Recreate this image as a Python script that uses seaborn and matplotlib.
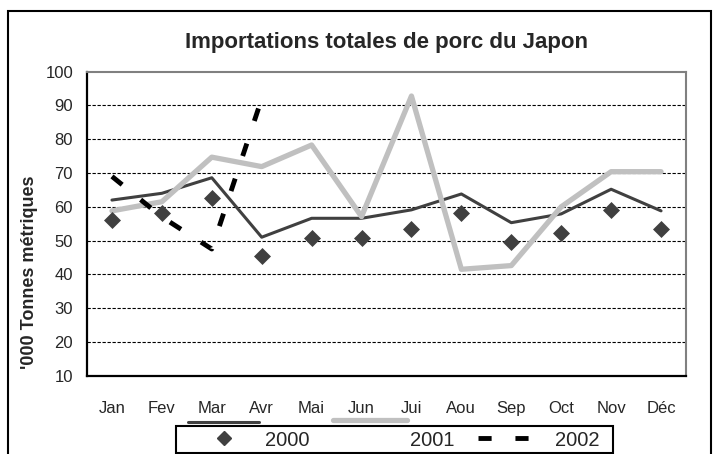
import numpy as np
import matplotlib
matplotlib.use('Agg')
import matplotlib.pyplot as plt
from matplotlib.lines import Line2D
from matplotlib.patches import Rectangle
import seaborn as sns

# ========== DATA ==========
mois = ['Jan', 'Fev', 'Mar', 'Avr', 'Mai', 'Jun', 'Jui', 'Aou', 'Sep', 'Oct', 'Nov', 'Déc']
moyenne = [62.0, 64.0, 68.6, 51.0, 56.6, 56.6, 59.1, 63.8, 55.3, 57.9, 65.2, 58.8]
imports_2000 = [56.1, 58.1, 62.5, 45.4, 50.9, 50.9, 53.3, 58.1, 49.7, 52.2, 59.1, 53.3]
imports_2001 = [58.8, 61.5, 74.7, 71.9, 78.3, 57.1, 92.8, 41.5, 42.6, 60.0, 70.4, 70.4]
imports_2002 = [69.0, 57.0, 47.5, 92.0]
y_ticks = list(range(10, 101, 10))

titre = 'Importations totales de porc du Japon'
label_y = "'000 Tonnes métriques"

# ========== STYLE ==========
sns.set_style("white")
plt.rcParams['font.family'] = ['Liberation Sans', 'DejaVu Sans']

W, H = 722, 454
fig = plt.figure(figsize=(W / 100, H / 100), dpi=100)
ax = fig.add_axes([87 / W, 1 - 375.7 / H, (686 - 87) / W, (375.7 - 71.7) / H])

pos = np.arange(len(mois))

# ========== SERIES ==========
sns.lineplot(x=pos, y=moyenne, color='#404040', linewidth=2.2, ax=ax, zorder=3)
sns.lineplot(x=pos, y=imports_2001, color='#c0c0c0', linewidth=3.8, ax=ax, zorder=4)
sns.scatterplot(x=pos, y=imports_2000, marker='D', s=75, color='#404040',
                edgecolor='#404040', linewidth=0, ax=ax, zorder=5)
sns.lineplot(x=pos[:len(imports_2002)], y=imports_2002, color='black', linewidth=3.5,
             linestyle=(0, (2.7, 4.9)), dash_capstyle='butt', ax=ax, zorder=6)

# ========== AXES ==========
ax.set_xlim(-0.5, len(mois) - 0.5)
ax.set_ylim(10, 100)
ax.set_yticks(y_ticks)
ax.set_xticks(pos, mois)
ax.set_xticks(np.arange(-0.5, len(mois), 1), minor=True)
ax.tick_params(axis='x', which='major', length=0, pad=18, labelsize=12)
ax.tick_params(axis='x', which='minor', direction='out', length=6, width=1.5, color='black')
ax.tick_params(axis='y', direction='out', length=6, width=1.5, color='black', pad=4, labelsize=12)
ax.set_xlabel('')
ax.set_ylabel('')

ax.grid(axis='y', color='black', linewidth=0.8, linestyle=(0, (3, 1.5)))
ax.grid(axis='x', visible=False)
ygrid = ax.get_ygridlines()
ygrid[0].set_visible(False)
ygrid[-1].set_visible(False)

for side in ['left', 'bottom']:
    ax.spines[side].set_color('black')
    ax.spines[side].set_linewidth(1.6)
for side in ['top', 'right']:
    ax.spines[side].set_color('#808080')
    ax.spines[side].set_linewidth(1.5)

# ========== TEXT ==========
fig.text(386.5 / W, 1 - 48.3 / H, titre, ha='center', va='baseline',
         fontsize=16, fontweight='bold')
fig.text(29.5 / W, 1 - 272 / H, label_y, rotation=90, ha='center', va='center',
         fontsize=13, fontweight='bold')

# ========== LEGEND ==========
handles = [
    Line2D([], [], marker='D', markersize=7, color='#404040', linestyle='none'),
    Line2D([], [], color='none'),
    Line2D([], [], color='black', linewidth=3.5, linestyle=(0, (2.7, 4.9)), dash_capstyle='butt'),
]
leg = fig.legend(handles, ['2000', '2001', '2002'], loc='center left',
                 bbox_to_anchor=(188 / W, 1 - 440 / H), bbox_transform=fig.transFigure,
                 ncol=3, frameon=False, fontsize=14.5, handlelength=3.58,
                 handletextpad=0.22, columnspacing=1.2, borderpad=0, borderaxespad=0)

fig.add_artist(Rectangle((176 / W, 1 - 453 / H), (613 - 176) / W, (453 - 426) / H,
                         transform=fig.transFigure, fill=False, lw=1.5, ec='black'))
fig.add_artist(Line2D([188 / W, 259 / W], [1 - 421.7 / H] * 2, transform=fig.transFigure,
                      color='#404040', lw=2.2, solid_capstyle='round'))
fig.add_artist(Line2D([333 / W, 407 / W], [1 - 420 / H] * 2, transform=fig.transFigure,
                      color='#c0c0c0', lw=3.8, solid_capstyle='round'))

# outer chart frame
fig.add_artist(Rectangle((8 / W, -0.05), (711 - 8) / W, 1.05 - 11 / H,
                         transform=fig.transFigure, fill=False, lw=1.5, ec='black'))

fig.savefig('out.png', dpi=100)
